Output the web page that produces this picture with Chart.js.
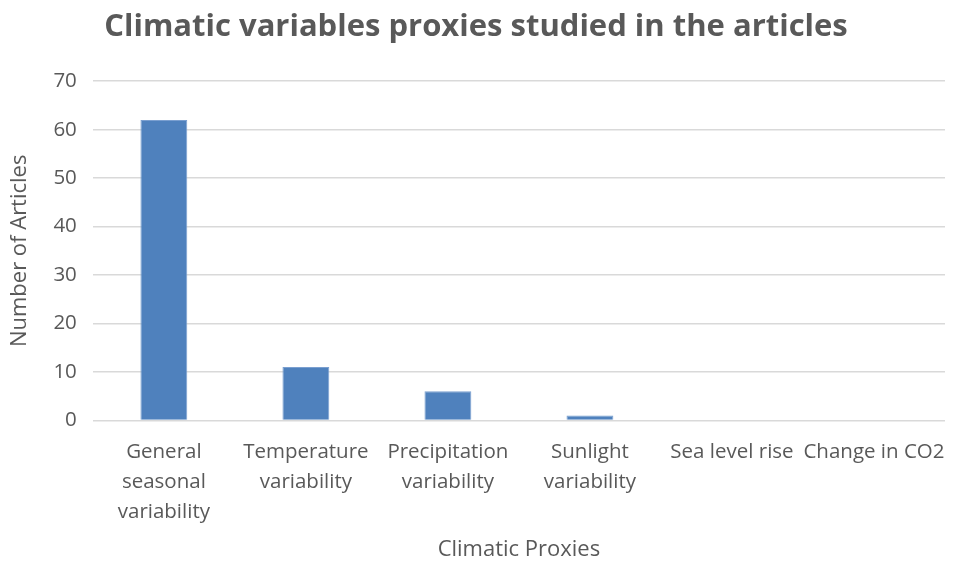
<!DOCTYPE html>
<html>
<head>
<meta charset="utf-8">
<script src="https://cdn.jsdelivr.net/npm/chart.js@4.4.0/dist/chart.umd.min.js"></script>
<style>
  html, body { margin: 0; padding: 0; background: #fff; }
  #wrap { width: 961px; height: 563px; }
</style>
</head>
<body>
<div id="wrap"><canvas id="myChart" width="961" height="563"></canvas></div>
<script>
// chart data
const categories = [
  ["General", "seasonal", "variability"],
  ["Temperature", "variability"],
  ["Precipitation", "variability"],
  ["Sunlight", "variability"],
  "Sea level rise",
  "Change in CO2",
];
const articleCounts = [62, 11, 6, 1, 0, 0];
const yTicks = [0, 10, 20, 30, 40, 50, 60, 70];

const FONT = "'Open Sans', sans-serif";
const GREY = "#595959";

const ctx = document.getElementById("myChart").getContext("2d");
new Chart(ctx, {
  type: "bar",
  data: {
    labels: categories,
    datasets: [
      {
        label: "Number of Articles",
        data: articleCounts,
        backgroundColor: "#4f81bd",
        borderColor: "#7a9fd0",
        borderWidth: 1,
        categoryPercentage: 1.0,
        barPercentage: 0.33,
      },
    ],
  },
  options: {
    responsive: false,
    animation: false,
    layout: { padding: { left: 7, right: 16, top: 0, bottom: 0 } },
    plugins: {
      legend: { display: false },
      tooltip: { enabled: false },
      title: {
        display: true,
        text: "Climatic variables proxies studied in the articles",
        color: GREY,
        font: { family: FONT, size: 31, weight: "bold" },
        padding: { top: 9, bottom: 35 },
      },
    },
    scales: {
      x: {
        grid: { display: false },
        border: { display: false },
        ticks: {
          color: GREY,
          font: { family: FONT, size: 20.5, lineHeight: 1.45 },
          maxRotation: 0,
          autoSkip: false,
          padding: 9,
        },
        title: {
          display: true,
          text: "Climatic Proxies",
          color: GREY,
          font: { family: FONT, size: 22 },
          padding: { top: 1, bottom: 0 },
        },
      },
      y: {
        min: 0,
        max: 70,
        afterBuildTicks: (axis) => {
          axis.ticks = yTicks.map((v) => ({ value: v }));
        },
        grid: { color: "#d9d9d9", lineWidth: 1.5, drawTicks: false },
        border: { display: false },
        ticks: {
          color: GREY,
          font: { family: FONT, size: 20.5 },
          padding: 16,
        },
        title: {
          display: true,
          text: "Number of Articles",
          color: GREY,
          font: { family: FONT, size: 22 },
          padding: { top: 0, bottom: 4 },
        },
      },
    },
  },
});
</script>
</body>
</html>
